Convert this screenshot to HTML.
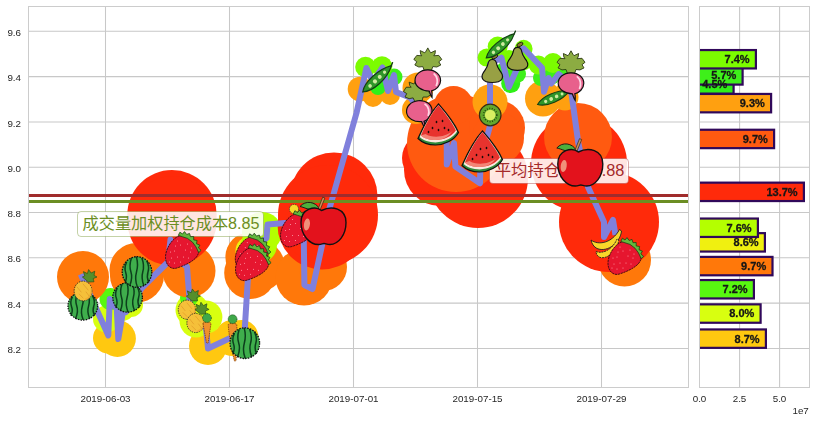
<!DOCTYPE html><html><head><meta charset="utf-8"><title>chart</title><style>html,body{margin:0;padding:0;background:#fff;}svg{display:block;}text{font-family:"Liberation Sans",sans-serif;}</style></head><body>
<svg width="816" height="422" viewBox="0 0 816 422">
<defs>
<clipPath id="cm"><rect x="28.5" y="6.5" width="660.0" height="381.0"/></clipPath>
<clipPath id="cb"><rect x="699.5" y="6.5" width="110.0" height="381.0"/></clipPath>
<g id="melon">
 <ellipse cx="0" cy="0" rx="14.8" ry="15.3" fill="#3fae4c"/>
 <path d="M-10.5,-9.5q-2.5,5 -0.8,10t-0.5,9.5 M-5.8,-13.2q-2.2,7 -0.3,13t-1,13.5 M-0.5,-14.8q2,7.5 0,14.8t0.8,14.8 M5,-13.6q2.6,7 0.8,13.4t1,13.6 M10,-10.5q2.6,5.5 1,10.5t0.6,10" fill="none" stroke="#0c3f1c" stroke-width="1.5" stroke-linecap="round"/>
 <ellipse cx="0" cy="0" rx="14.8" ry="15.3" fill="none" stroke="#111" stroke-width="1.3" stroke-dasharray="1.6 1.1"/>
</g>
<g id="pine">
 <path d="M5.3,-9l-6,-5 2.4,-1 -1.4,-4.4 4,2 1.2,-4 2.6,3.4 3.6,-1.8 -0.8,4.2 3,1.6 -3.8,1.6 0.8,3.2z" fill="#558f2c" stroke="#2c5216" stroke-width="0.7"/>
 <ellipse cx="0" cy="0" rx="9" ry="9.9" fill="#f5c03a" stroke="#222" stroke-width="0.9" stroke-dasharray="1.4 1.1"/>
 <path d="M2,8.8a9,9.9 0 0 0 6.4,-12" fill="none" stroke="#eba030" stroke-width="2.2" opacity="0.55"/>
 <path d="M-6,-4l4,5m2,-8l5,6m-9,4l4,4m3,-6l3,4" stroke="#e09a28" stroke-width="1" fill="none" stroke-linecap="round" opacity="0.7"/>
</g>
<g id="straw">
 <path d="M-3,-15.2C4,-17.2 13.6,-9 15.8,-1.2C17.8,6 8,12.6 -5.6,17C-11.6,19 -17,14.2 -17,6.2C-17,-2 -10.6,-12.6 -3,-15.2Z" fill="#e6162f" stroke="#3a0810" stroke-width="0.9" stroke-dasharray="2.2 0.7"/>
 <g fill="#ff9aa6"><circle cx="-8" cy="0" r="0.55"/><circle cx="-2" cy="-6" r="0.55"/><circle cx="3" cy="-1" r="0.55"/><circle cx="-11" cy="7" r="0.55"/><circle cx="-5" cy="6" r="0.55"/><circle cx="1" cy="6" r="0.55"/><circle cx="8" cy="1" r="0.55"/><circle cx="-8" cy="12" r="0.55"/><circle cx="-2" cy="11" r="0.55"/><circle cx="5" cy="-7" r="0.55"/><circle cx="-12" cy="1" r="0.55"/><circle cx="9" cy="-3" r="0.55"/><circle cx="-5" cy="-10" r="0.55"/><circle cx="-13" cy="11" r="0.55"/><circle cx="6" cy="7" r="0.55"/><circle cx="-7" cy="-5" r="0.55"/></g>
 <path d="M-4.2,-15.6L-2.6,-18.8 0,-17 2,-19.4 4.2,-16.5 7,-17.6 8,-14.3 11.2,-14.5 11.2,-11.1 14.6,-10.5 14,-7.3 17.4,-5.8 15.9,-3.2 18.6,-0.6 16.2,1.6 13.4,-4.2 10,-8.8 5,-12.6 0,-14.2Z" fill="#62b83c" stroke="#1c4212" stroke-width="0.8"/>
</g>
<g id="apple">
 <path d="M-4,-17.2C-8,-24.5 -18,-26 -23.5,-19.5C-18,-18.5 -14,-14.5 -4,-17.2Z" fill="#4caf3c" stroke="#111" stroke-width="0.9"/>
 <path d="M-5.6,-16.5L-0.8,-28.8L1.4,-28L-3.2,-16.5Z" fill="#c8925a" stroke="#3a2410" stroke-width="0.7"/>
 <path d="M-2,-15.5C-8,-20.5 -22.5,-18 -22.5,-3.5C-22.5,9 -14,18.5 -5,18.5C-2,18.5 -1,17.5 0.5,17.5C2,17.5 3.4,18.5 6.4,18.5C15,18.5 22.5,9 22.5,-3.5C22.5,-18 8,-20.5 -2,-15.5Z" fill="#e3121c" stroke="#111" stroke-width="1.4"/>
 <ellipse cx="-16.6" cy="-1.5" rx="3" ry="6" fill="#f0907a" transform="rotate(8 -16.6 -1.5)"/>
</g>
<g id="pea">
 <path d="M20,0.3L23.5,-1.2" stroke="#143f14" stroke-width="1.4" fill="none" stroke-linecap="round"/>
 <path d="M-20.5,0C-12,7.2 8,7.6 20.5,0.3C8,-6.4 -12,-6.6 -20.5,0Z" fill="#2f962a" stroke="#143f14" stroke-width="1.3"/>
 <g fill="#cfeaa0"><circle cx="-10.5" cy="0.6" r="1.9"/><circle cx="-3.5" cy="0.6" r="2.2"/><circle cx="3.5" cy="0.5" r="2.1"/><circle cx="10.5" cy="0.4" r="1.7"/></g>
</g>
<g id="radish">
 <path d="M0,-32.5 1.8,-29.2 3.0,-27.6 7.6,-29.8 7.2,-26.4 6.0,-24.6 11.0,-25.0 14.0,-21.0 11.0,-18.6 13.0,-15.4 9.0,-13.4 5.0,-13.8 3.6,-10.0 0,-10.4 -3.6,-10.0 -5.0,-13.8 -9.0,-13.4 -13.0,-15.4 -11.0,-18.6 -14.0,-21.0 -11.0,-25.0 -6.0,-24.6 -7.2,-26.4 -7.6,-29.8 -3.0,-27.6 -1.8,-29.2Z" fill="#8cac42" stroke="#2c3a12" stroke-width="0.9"/>
 <path d="M0,-10.5C8,-10.5 12.8,-5.5 12.8,0C12.8,5.5 8,9.5 3.8,10.5C4.6,13 4.2,15 4.2,17C2.6,15 2.2,12.5 1.4,10.6C-6,10.6 -12.8,6 -12.8,0C-12.8,-5.5 -8,-10.5 0,-10.5Z" fill="#e8608c" stroke="#111" stroke-width="1.2"/>
 <path d="M6.4,-6.4C9.6,-4 10.4,1.5 8.6,5" fill="none" stroke="#ffd6e4" stroke-width="1.8" stroke-linecap="round"/>
</g>
<g id="slice">
 <path d="M0,-21C7,-13 15.5,-3 20,7.5C16,15 6,20 -3,20C-10,20 -16.5,17.5 -20.5,13.5C-15,1 -8,-12 0,-21Z" fill="#2e8b3a" stroke="#111" stroke-width="1.2"/>
 <path d="M0,-20C6.5,-12.5 14.5,-2.5 18.6,6.6C14.6,12.8 6,17.4 -3,17.4C-9.5,17.4 -15.4,15.4 -18.8,12C-14,0.8 -7.5,-11.5 0,-20Z" fill="#fbe9e0"/>
 <path d="M0,-20C6.2,-12.5 13.6,-3 17.4,5.6C13.6,11.2 6,15 -3,15C-9,15 -14.4,13.2 -17.6,10.4C-13.4,0 -7,-11.5 0,-20Z" fill="#e8332e"/>
 <path d="M-13,9C-7,13 6,13 14,6C10,12 4,15 -3,15C-9,15 -14.4,13.2 -17.6,10.4Z" fill="#f59a8a" opacity="0.8"/>
 <g fill="#1a0a08"><ellipse cx="-6" cy="3" rx="0.8" ry="1.3"/><ellipse cx="0" cy="5" rx="0.8" ry="1.3"/><ellipse cx="6" cy="3" rx="0.8" ry="1.3"/><ellipse cx="-2" cy="-3" rx="0.8" ry="1.3"/><ellipse cx="4" cy="-4" rx="0.8" ry="1.3"/><ellipse cx="-10" cy="7" rx="0.8" ry="1.2"/><ellipse cx="10" cy="5" rx="0.8" ry="1.2"/></g>
</g>
<g id="kiwi">
 <circle r="10.8" fill="#62a82c" stroke="#3a2a10" stroke-width="1.2"/>
 <circle r="6.6" fill="none" stroke="#22400c" stroke-width="1.6" stroke-dasharray="0.9 1.6"/>
 <circle r="5.3" fill="#d8ee62"/>
</g>
<g id="pear">
 <ellipse cx="2.4" cy="-14.4" rx="3.3" ry="1.8" transform="rotate(-28 2.4 -14.4)" fill="#8a7a2e" stroke="#111" stroke-width="0.8"/>
 <path d="M0,-11.5C2.8,-11.5 4,-9.4 4.4,-6.8C5,-3.2 7,-1.2 9,1.8C11.6,6 10.6,11.5 0,11.5C-10.6,11.5 -11.6,6 -9,1.8C-7,-1.2 -5,-3.2 -4.4,-6.8C-4,-9.4 -2.8,-11.5 0,-11.5Z" fill="#98a044" stroke="#111" stroke-width="1.2"/>
</g>
<g id="banana">
 <path d="M-15,0C-8,5.5 6,3.5 13.5,-10.5L15.5,-9C14.5,2 2,13 -9,8.5C-12,7 -14.5,3.5 -15,0Z" fill="#f8d62a" stroke="#222" stroke-width="0.9"/>
 <path d="M-10,11.5C-3,14.5 7,9 11,-1L12.8,0C11.6,10 2,19.6 -6,17.4C-8.4,16.4 -10,14 -10,11.5Z" fill="#f8d62a" stroke="#222" stroke-width="0.9" stroke-dasharray="2 0.8"/>
</g>
<g id="carrot">
 <path d="M-4,-6.5C-3,-8.5 3,-8.5 4,-6.5L1.2,12.5C0.6,13.6 -0.2,13.6 -0.6,12.5Z" fill="#f0902c" stroke="#7a3a0a" stroke-width="0.8" stroke-dasharray="1.5 0.8"/>
 <circle cx="0" cy="-12" r="4.4" fill="#3fa84a" stroke="#1c4a1c" stroke-width="0.8" stroke-dasharray="1.2 0.8"/>
</g>
<g id="yblob"><circle r="4.6" fill="#f8da28" stroke="#333" stroke-width="0.8" stroke-dasharray="1.3 0.9"/></g>
<g id="carrot2">
 <path d="M-4.4,-6.5C-3,-8.5 3,-8.5 4.2,-6.5C4.6,6 4.6,18 3.4,29C2.8,30.4 2,30.4 1.6,29C-1,18 -3.4,6 -4.4,-6.5Z" fill="#f0902c" stroke="#7a3a0a" stroke-width="0.8" stroke-dasharray="1.5 0.8"/>
 <circle cx="0" cy="-12" r="4.4" fill="#3fa84a" stroke="#1c4a1c" stroke-width="0.8" stroke-dasharray="1.2 0.8"/>
</g>

<filter id="gs" x="0" y="0" width="100%" height="100%" filterUnits="userSpaceOnUse" color-interpolation-filters="sRGB"><feColorMatrix type="saturate" values="0"/></filter>
</defs>
<rect width="816" height="422" fill="#ffffff"/>
<path d="M28.5 31.30H688.5M699.5 31.30H809.5M28.5 76.60H688.5M699.5 76.60H809.5M28.5 121.90H688.5M699.5 121.90H809.5M28.5 167.20H688.5M699.5 167.20H809.5M28.5 212.50H688.5M699.5 212.50H809.5M28.5 257.80H688.5M699.5 257.80H809.5M28.5 303.10H688.5M699.5 303.10H809.5M28.5 348.40H688.5M699.5 348.40H809.5M105.50 6.5V387.5M229.50 6.5V387.5M353.50 6.5V387.5M477.50 6.5V387.5M601.50 6.5V387.5M739.6 6.5V387.5M779.6 6.5V387.5" stroke="#c8c8c8" stroke-width="1.05" fill="none"/>
<g clip-path="url(#cm)">
<circle cx="108.5" cy="338" r="15.5" fill="#ffc810"/>
<circle cx="117.4" cy="338.5" r="18.5" fill="#ffc810"/>
<circle cx="208" cy="346" r="19" fill="#ffc810"/>
<circle cx="232.5" cy="338" r="18" fill="#ffc810"/>
<circle cx="241.4" cy="337" r="17" fill="#ffc810"/>
<circle cx="106.5" cy="319" r="13.5" fill="#d8ff10"/>
<circle cx="122" cy="308" r="13" fill="#d8ff10"/>
<circle cx="131" cy="305" r="12" fill="#d8ff10"/>
<circle cx="192" cy="310" r="16.5" fill="#d8ff10"/>
<circle cx="196" cy="321" r="16.5" fill="#d8ff10"/>
<circle cx="205.9" cy="317" r="16.5" fill="#d8ff10"/>
<circle cx="110.5" cy="299" r="11" fill="#58f810"/>
<circle cx="189" cy="298" r="9" fill="#58f810"/>
<circle cx="83" cy="277" r="26" fill="#ff780a"/>
<circle cx="137" cy="275.5" r="27" fill="#ff780a"/>
<circle cx="136.5" cy="270" r="27" fill="#ff780a"/>
<circle cx="189" cy="271" r="26.5" fill="#ff780a"/>
<circle cx="250.2" cy="273" r="26" fill="#ff780a"/>
<circle cx="250" cy="257" r="24.6" fill="#ff780a"/>
<circle cx="259.1" cy="266" r="25.5" fill="#ff780a"/>
<circle cx="304" cy="277" r="28.5" fill="#ff780a"/>
<circle cx="323" cy="267" r="24" fill="#ff780a"/>
<circle cx="624.5" cy="260" r="26.5" fill="#ff780a"/>
<circle cx="250.2" cy="251" r="14.7" fill="#f0f010"/>
<circle cx="262" cy="232" r="20" fill="#b4ff00"/>
<circle cx="259" cy="245" r="18" fill="#b4ff00"/>
<circle cx="172" cy="214.8" r="44.7" fill="#ff2a0a"/>
<circle cx="172" cy="221" r="44.7" fill="#ff2a0a"/>
<circle cx="334" cy="196" r="43.5" fill="#ff2a0a"/>
<circle cx="322" cy="225" r="44.5" fill="#ff2a0a"/>
<circle cx="328" cy="215" r="50" fill="#ff2a0a"/>
<circle cx="427" cy="158" r="25" fill="#ff2a0a"/>
<circle cx="440" cy="170" r="36" fill="#ff2a0a"/>
<circle cx="478" cy="178" r="50" fill="#ff2a0a"/>
<circle cx="579" cy="163" r="48" fill="#ff2a0a"/>
<circle cx="609" cy="222" r="50" fill="#ff2a0a"/>
<circle cx="456" cy="143" r="49" fill="#ff5a10"/>
<circle cx="453.5" cy="105.5" r="19.5" fill="#ff5a10"/>
<circle cx="497" cy="128" r="28" fill="#ff5a10"/>
<circle cx="498" cy="138" r="26" fill="#ff5a10"/>
<circle cx="578" cy="137" r="34" fill="#ff5a10"/>
<circle cx="360" cy="89" r="12.3" fill="#ffa010"/>
<circle cx="373" cy="97" r="10" fill="#ffa010"/>
<circle cx="390" cy="95" r="10" fill="#ffa010"/>
<circle cx="418" cy="88" r="15.5" fill="#ffa010"/>
<circle cx="416" cy="110" r="14" fill="#ffa010"/>
<circle cx="490" cy="102" r="17.5" fill="#ffa010"/>
<circle cx="543" cy="98.5" r="18" fill="#ffa010"/>
<circle cx="565" cy="97" r="13.5" fill="#ffa010"/>
<circle cx="378" cy="87" r="8" fill="#30f018"/>
<circle cx="510.7" cy="83.5" r="9.5" fill="#30f018"/>
<circle cx="394" cy="77" r="8.5" fill="#3ef01a"/>
<circle cx="503" cy="72" r="9" fill="#3ef01a"/>
<circle cx="517" cy="74" r="9" fill="#3ef01a"/>
<circle cx="551" cy="76" r="9" fill="#3ef01a"/>
<circle cx="541" cy="78" r="8" fill="#3ef01a"/>
<circle cx="562" cy="70" r="8" fill="#3ef01a"/>
<circle cx="365.5" cy="67" r="10.3" fill="#7cfc00"/>
<circle cx="382" cy="66.5" r="10.3" fill="#7cfc00"/>
<circle cx="497.7" cy="46.5" r="10" fill="#7cfc00"/>
<circle cx="486.6" cy="57.6" r="9" fill="#7cfc00"/>
<circle cx="523.6" cy="48.8" r="9" fill="#7cfc00"/>
<circle cx="509" cy="60" r="10" fill="#7cfc00"/>
<circle cx="524" cy="62" r="8" fill="#7cfc00"/>
<circle cx="538.4" cy="65" r="9.5" fill="#7cfc00"/>
<circle cx="553" cy="63" r="10" fill="#7cfc00"/>
<polyline points="82,277 108.3,335.5 109.8,299 116.8,309 118.3,339 123.5,309 126,312 141.7,288 168,262 170.5,239.5 175,258 187,266.7 189.3,297 189.5,312 197.1,322 206,328 208,348.5 232.5,337 244.7,330 248,277 250,250 266.5,238 267.5,224.5 285,223 296,230 303.8,240 304.4,285 312.5,289 322.5,243 326,225 329.9,207 356.5,113 366.4,68 373,82 382.5,67.5 388,91 394,75 396,92 410,97.5 420,110 430,125 446.7,140 446.8,164.5 454,143 455.4,166.5 480,183.3 480.5,160 490,126 490,82 490,64 501.4,57.6 508.8,87 516.2,70.5 518,52 523.6,48.3 542,67.7 544,91.8 548.6,78 551.3,83.5 558.7,74.2 566,80 571.7,95 578.3,143 588,187 604,222 604,237 613,220 615,232" fill="none" stroke="#8080dc" stroke-width="6" stroke-linejoin="round" stroke-linecap="square"/>
<rect x="28.5" y="194" width="660.0" height="3" fill="#a02c2c"/>
<rect x="28.5" y="200" width="660.0" height="3" fill="#6b8e23"/>
</g>
<rect x="28.5" y="6.5" width="660.0" height="381.0" fill="none" stroke="#cccccc" stroke-width="1" shape-rendering="crispEdges"/>
<rect x="77.5" y="211.5" width="186.0" height="25.0" rx="3.5" ry="3.5" fill="#ffffff" fill-opacity="0.88" stroke="#6b8e23" stroke-opacity="0.4" stroke-width="1"/>
<text x="82.6" y="229.2" font-size="15.8" fill="#6b8e23" textLength="177" lengthAdjust="spacingAndGlyphs" style="font-family:'Liberation Sans','Noto Sans CJK SC',sans-serif;">成交量加权持仓成本8.85</text>
<rect x="489.5" y="158.5" width="139.0" height="25.0" rx="3.5" ry="3.5" fill="#ffffff" fill-opacity="0.88" stroke="#a52a2a" stroke-opacity="0.4" stroke-width="1"/>
<text x="494.8" y="176.3" font-size="15.8" fill="#a52a2a" textLength="129.6" lengthAdjust="spacingAndGlyphs" style="font-family:'Liberation Sans','Noto Sans CJK SC',sans-serif;">平均持仓成本8.88</text>
<g clip-path="url(#cm)">
<use href="#melon" transform="translate(82.8 306) rotate(0) scale(1.0 0.92)"/>
<use href="#pine" transform="translate(83.1 291) rotate(0) scale(1.0 1.0)"/>
<use href="#melon" transform="translate(127.6 297.5) rotate(0) scale(1.0 0.96)"/>
<use href="#melon" transform="translate(137 272) rotate(0) scale(1.0 1.0)"/>
<use href="#straw" transform="translate(182.5 251) rotate(0) scale(1.0 1.0)"/>
<use href="#pine" transform="translate(187 309.7) rotate(0) scale(0.97 0.97)"/>
<use href="#pine" transform="translate(195.6 323) rotate(0) scale(0.97 0.97)"/>
<use href="#carrot" transform="translate(207 330) rotate(0) scale(1.0 1.0)"/>
<use href="#carrot2" transform="translate(232.6 331.2) rotate(0) scale(1.0 1.0)"/>
<use href="#melon" transform="translate(244.8 343.2) rotate(0) scale(1.0 1.0)"/>
<use href="#straw" transform="translate(252.3 252.6) rotate(0) scale(1.0 1.0)"/>
<use href="#straw" transform="translate(252.5 263.2) rotate(0) scale(1.0 1.0)"/>
<use href="#yblob" transform="translate(294 209) rotate(0) scale(1.0 1.0)"/>
<use href="#straw" transform="translate(297.5 229.5) rotate(0) scale(1.0 1.0)"/>
<use href="#apple" transform="translate(323.5 226) rotate(0) scale(1.0 1.0)"/>
<use href="#pea" transform="translate(377 78.7) rotate(-43) scale(0.95 0.95)"/>
<use href="#radish" transform="translate(419.3 111.2) rotate(-5) scale(1.0 1.0)"/>
<use href="#radish" transform="translate(427.8 80.4) rotate(0) scale(1.0 1.0)"/>
<use href="#slice" transform="translate(438.5 125) rotate(0) scale(1.0 1.0)"/>
<use href="#slice" transform="translate(482.5 152) rotate(0) scale(1.0 1.0)"/>
<use href="#kiwi" transform="translate(490.2 115) rotate(0) scale(1.0 1.0)"/>
<use href="#pear" transform="translate(492.3 71) rotate(0) scale(1.0 1.0)"/>
<use href="#pear" transform="translate(517.5 58.9) rotate(0) scale(1.0 1.0)"/>
<use href="#pea" transform="translate(500.2 45.8) rotate(-41) scale(0.9 0.9)"/>
<use href="#pea" transform="translate(553.7 97.3) rotate(-24) scale(0.86 0.86)"/>
<use href="#radish" transform="translate(571 83.3) rotate(0) scale(1.0 1.0)"/>
<use href="#apple" transform="translate(580.3 167.5) rotate(0) scale(1.0 1.0)"/>
<use href="#banana" transform="translate(606 240) rotate(0) scale(1.0 1.0)"/>
<use href="#straw" transform="translate(625 257) rotate(0) scale(1.0 1.0)"/>
</g>
<g filter="url(#gs)">
<text x="21.0" y="35.9" font-size="9.8" fill="#262626" text-anchor="end">9.6</text>
<text x="21.0" y="81.2" font-size="9.8" fill="#262626" text-anchor="end">9.4</text>
<text x="21.0" y="126.5" font-size="9.8" fill="#262626" text-anchor="end">9.2</text>
<text x="21.0" y="171.8" font-size="9.8" fill="#262626" text-anchor="end">9.0</text>
<text x="21.0" y="217.1" font-size="9.8" fill="#262626" text-anchor="end">8.8</text>
<text x="21.0" y="262.4" font-size="9.8" fill="#262626" text-anchor="end">8.6</text>
<text x="21.0" y="307.7" font-size="9.8" fill="#262626" text-anchor="end">8.4</text>
<text x="21.0" y="353.0" font-size="9.8" fill="#262626" text-anchor="end">8.2</text>
<text x="105.5" y="401.9" font-size="9.8" fill="#262626" text-anchor="middle">2019-06-03</text>
<text x="229.5" y="401.9" font-size="9.8" fill="#262626" text-anchor="middle">2019-06-17</text>
<text x="353.5" y="401.9" font-size="9.8" fill="#262626" text-anchor="middle">2019-07-01</text>
<text x="477.5" y="401.9" font-size="9.8" fill="#262626" text-anchor="middle">2019-07-15</text>
<text x="601.5" y="401.9" font-size="9.8" fill="#262626" text-anchor="middle">2019-07-29</text>
<text x="699.5" y="401.9" font-size="9.8" fill="#262626" text-anchor="middle">0.0</text>
<text x="739.5" y="401.9" font-size="9.8" fill="#262626" text-anchor="middle">2.5</text>
<text x="779.5" y="401.9" font-size="9.8" fill="#262626" text-anchor="middle">5.0</text>
<text x="808.8" y="414.0" font-size="9.8" fill="#262626" text-anchor="end">1e7</text>
</g>
<g clip-path="url(#cb)">
<rect x="696.5" y="329.45" width="69.39999999999998" height="18.400000000000023" fill="#ffc810" stroke="#30085a" stroke-width="2.2"/>
<rect x="696.5" y="304.35" width="64.10000000000002" height="18.400000000000023" fill="#d8ff10" stroke="#30085a" stroke-width="2.2"/>
<rect x="696.5" y="280.05" width="57.39999999999998" height="18.400000000000023" fill="#58f810" stroke="#30085a" stroke-width="2.2"/>
<rect x="696.5" y="256.90000000000003" width="76.0" height="18.400000000000023" fill="#ff780a" stroke="#30085a" stroke-width="2.2"/>
<rect x="696.5" y="233.14999999999998" width="68.39999999999998" height="18.400000000000023" fill="#f0f010" stroke="#30085a" stroke-width="2.2"/>
<rect x="696.5" y="218.54999999999998" width="61.39999999999998" height="18.400000000000023" fill="#b4ff00" stroke="#30085a" stroke-width="2.2"/>
<rect x="696.5" y="182.64999999999998" width="107.39999999999998" height="18.400000000000023" fill="#ff2a0a" stroke="#30085a" stroke-width="2.2"/>
<rect x="696.5" y="129.74999999999997" width="77.60000000000002" height="18.400000000000023" fill="#ff5a10" stroke="#30085a" stroke-width="2.2"/>
<rect x="696.5" y="93.95" width="74.60000000000002" height="18.399999999999995" fill="#ffa010" stroke="#30085a" stroke-width="2.2"/>
<rect x="696.5" y="75.2" width="37.10000000000002" height="18.399999999999995" fill="#30f018" stroke="#30085a" stroke-width="2.2"/>
<rect x="696.5" y="66.2" width="46.10000000000002" height="18.399999999999995" fill="#3ef01a" stroke="#30085a" stroke-width="2.2"/>
<rect x="696.5" y="50.050000000000004" width="59.39999999999998" height="18.399999999999995" fill="#7cfc00" stroke="#30085a" stroke-width="2.2"/>
</g>
<rect x="699.5" y="6.5" width="110.0" height="381.0" fill="none" stroke="#cccccc" stroke-width="1" shape-rendering="crispEdges"/>
<g filter="url(#gs)">
<text x="759.6" y="342.5" font-size="11" font-weight="bold" fill="#15151f" stroke="#15151f" stroke-width="0.3" text-anchor="end">8.7%</text>
<text x="754.3000000000001" y="317.4" font-size="11" font-weight="bold" fill="#15151f" stroke="#15151f" stroke-width="0.3" text-anchor="end">8.0%</text>
<text x="747.6" y="293.1" font-size="11" font-weight="bold" fill="#15151f" stroke="#15151f" stroke-width="0.3" text-anchor="end">7.2%</text>
<text x="766.2" y="270.0" font-size="11" font-weight="bold" fill="#15151f" stroke="#15151f" stroke-width="0.3" text-anchor="end">9.7%</text>
<text x="758.6" y="246.2" font-size="11" font-weight="bold" fill="#15151f" stroke="#15151f" stroke-width="0.3" text-anchor="end">8.6%</text>
<text x="751.6" y="231.7" font-size="11" font-weight="bold" fill="#15151f" stroke="#15151f" stroke-width="0.3" text-anchor="end">7.6%</text>
<text x="797.6" y="195.8" font-size="11" font-weight="bold" fill="#15151f" stroke="#15151f" stroke-width="0.3" text-anchor="end">13.7%</text>
<text x="767.8000000000001" y="142.8" font-size="11" font-weight="bold" fill="#15151f" stroke="#15151f" stroke-width="0.3" text-anchor="end">9.7%</text>
<text x="764.8000000000001" y="107.1" font-size="11" font-weight="bold" fill="#15151f" stroke="#15151f" stroke-width="0.3" text-anchor="end">9.3%</text>
<text x="727.3000000000001" y="88.3" font-size="11" font-weight="bold" fill="#15151f" stroke="#15151f" stroke-width="0.3" text-anchor="end">4.5%</text>
<text x="736.3000000000001" y="79.3" font-size="11" font-weight="bold" fill="#15151f" stroke="#15151f" stroke-width="0.3" text-anchor="end">5.7%</text>
<text x="749.6" y="63.1" font-size="11" font-weight="bold" fill="#15151f" stroke="#15151f" stroke-width="0.3" text-anchor="end">7.4%</text>
</g>
</svg></body></html>
